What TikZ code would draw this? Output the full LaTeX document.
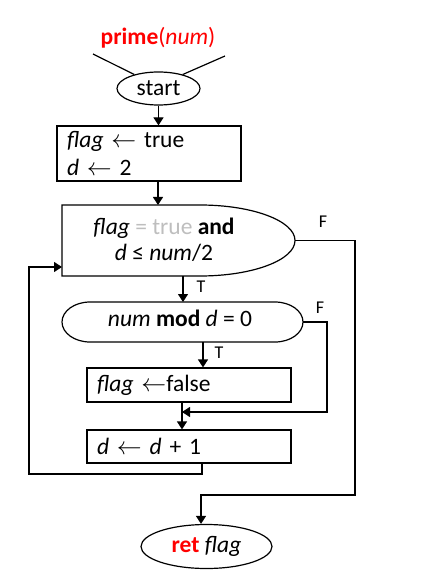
\documentclass[tikz,border=0pt]{standalone}
\usepackage{fontspec}
\setmainfont{Carlito}
\usetikzlibrary{arrows.meta,shapes.geometric}
\definecolor{kwred}{RGB}{255,0,0}
\definecolor{softgray}{RGB}{190,190,190}

\begin{document}
\begin{tikzpicture}[x=1pt,y=-1pt,
  every node/.style={font=\fontsize{23.5}{26}\selectfont},
  line/.style={line width=1.2pt},
  arr/.style={line width=1.2pt,-{Triangle[length=8pt,width=10pt]}},
  proc/.style={draw,line width=1.2pt,rectangle,inner sep=0pt,align=left},
  term/.style={draw,line width=1.2pt,ellipse,inner sep=0pt},
  lbl/.style={font=\fontsize{18}{21}\selectfont}]

\useasboundingbox (0,0) rectangle (434,577);

% function header and start terminal
\node (title) at (158,38) {\textcolor{kwred}{\textbf{prime}(\textit{num})}};
\node[term, minimum width=83pt, minimum height=33pt] (start) at (158.5,88.5) {start};
\coordinate (hl) at (93,54);
\coordinate (hr) at (225,56);
\draw[line] (hl) -- (start.150);
\draw[line] (hr) -- (start.30);

% initialisation
\node[proc, minimum width=184pt, minimum height=55pt, text width=164pt,
      font=\fontsize{23.5}{28}\selectfont] (init) at (149,153.5)
  {\textit{flag} $\leftarrow$ true\\ \textit{d} $\leftarrow$ 2};

% loop condition
\draw[line] (62,205) -- (200,205)
  arc[start angle=90,end angle=-90,x radius=95pt,y radius=35.5pt] -- (62,276) -- cycle;
\node[align=center, inner sep=0pt] (cond) at (164,240)
  {\textit{flag} \textcolor{softgray}{= true} \textbf{and}\\ \textit{d} ≤ \textit{num}/2};
\coordinate (cTop) at (158,205);
\coordinate (cBot) at (183,276);
\coordinate (cLeft) at (62,267);
\coordinate (cRight) at (295,240.5);

% divisibility test
\draw[line] (90,302) -- (275,302)
  arc[start angle=90,end angle=-90,x radius=28pt,y radius=20pt] -- (90,342)
  arc[start angle=270,end angle=90,x radius=28pt,y radius=20pt] -- cycle;
\node[inner sep=0pt] (test) at (180,318) {\textit{num} \textbf{mod} \textit{d} = 0};
\coordinate (mTop) at (183,302);
\coordinate (mBot) at (203,342);
\coordinate (mRight) at (303,322);

% loop body
\node[proc, minimum width=204pt, minimum height=34pt, text width=184pt] (setf) at (189,385)
  {\textit{flag} $\leftarrow$false};
\node[proc, minimum width=204pt, minimum height=33pt, text width=184pt] (inc) at (189,446.5)
  {\textit{d} $\leftarrow$ \textit{d} + 1};

% return terminal
\node[term, minimum width=131pt, minimum height=44pt] (ret) at (206.5,546.5)
  {\textcolor{kwred}{\textbf{ret}} \textit{flag}};

% connectors
\draw[arr] (start.south) -- (start.south |- init.north);
\draw[arr] (init.south -| cTop) -- (cTop);
\draw[arr] (cBot) -- (mTop);
\node[lbl] (t1) at (201,287) {T};
\draw[arr] (mBot) -- (mBot |- setf.north);
\node[lbl] (t2) at (219,353) {T};

\coordinate (j) at (182,412);
\draw[arr] (setf.south -| j) -- (inc.north -| j);
\coordinate (fx2) at (327,412);
\draw[arr] (mRight) -| (fx2) -- (j);
\node[lbl] (f2) at (320,308) {F};

\coordinate (fx1) at (355,495);
\coordinate (rIn) at (201,495);
\draw[arr] (cRight) -| (fx1) -- (rIn) -- (ret.north -| rIn);
\node[lbl] (f1) at (323,222) {F};

\coordinate (lo) at (202,474);
\coordinate (lb) at (29,474);
\draw[arr] (inc.south -| lo) -- (lo) -- (lb) -- (lb |- cLeft) -- (cLeft);
\end{tikzpicture}
\end{document}
